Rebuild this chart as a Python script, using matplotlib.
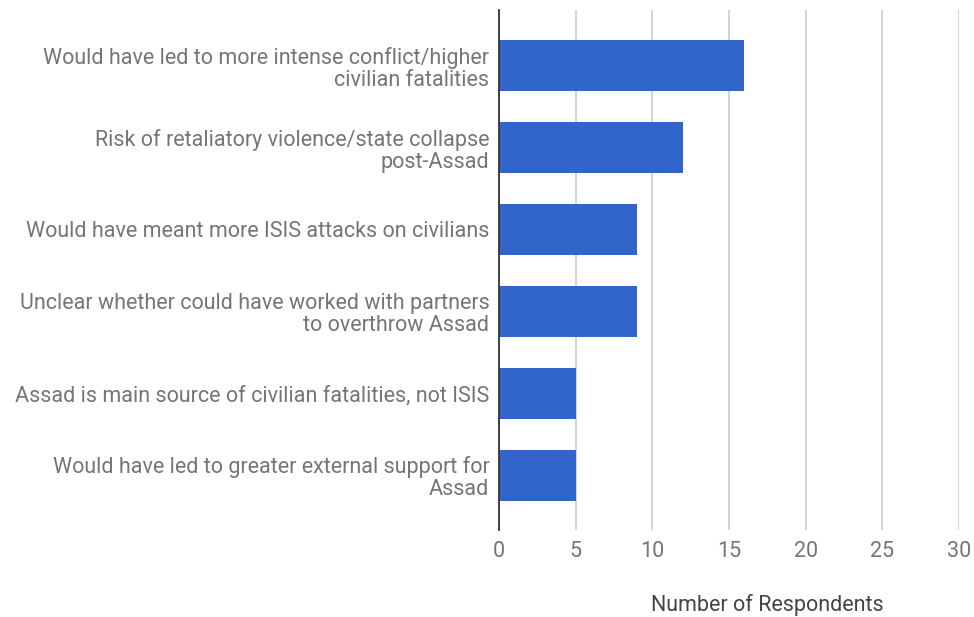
import matplotlib
matplotlib.use("Agg")
import matplotlib.pyplot as plt

reasons = [
    "Would have led to more intense conflict/higher\ncivilian fatalities",
    "Risk of retaliatory violence/state collapse\npost-Assad",
    "Would have meant more ISIS attacks on civilians",
    "Unclear whether could have worked with partners\nto overthrow Assad",
    "Assad is main source of civilian fatalities, not ISIS",
    "Would have led to greater external support for\nAssad",
]
respondents = [16, 12, 9, 9, 5, 5]
xticks = [0, 5, 10, 15, 20, 25, 30]

plt.rcParams["font.family"] = ["Roboto", "DejaVu Sans"]
GREY = "#757575"

fig = plt.figure(figsize=(9.74, 6.17), dpi=100)
ax = fig.add_axes([499 / 974, 1 - 530 / 617, 460 / 974, 520 / 617])

ypos = list(range(len(reasons)))
ax.barh(ypos, respondents, height=0.62, color="#3165ca", zorder=3)

ax.set_xlim(0, 30)
ax.set_ylim(5.67, -0.68)
ax.set_xticks(xticks)
ax.set_xticklabels([str(t) for t in xticks], fontsize=15.5, color=GREY)
ax.set_yticks(ypos)
ax.set_yticklabels(reasons, fontsize=15.5, color=GREY, linespacing=1.07)
ax.tick_params(length=0)
ax.tick_params(axis="x", pad=8)
ax.tick_params(axis="y", pad=7)
ax.grid(axis="x", color="#cccccc", lw=1.2, zorder=0)
for s in ("top", "right", "bottom"):
    ax.spines[s].set_visible(False)
ax.spines["left"].set_color("#333333")
ax.spines["left"].set_linewidth(1.3)
ax.spines["left"].set_zorder(4)

fig.text(767 / 974, 1 - 605 / 617, "Number of Respondents", ha="center", va="center",
         fontsize=15.5, color="#444444")

fig.savefig("out.png", dpi=100)
